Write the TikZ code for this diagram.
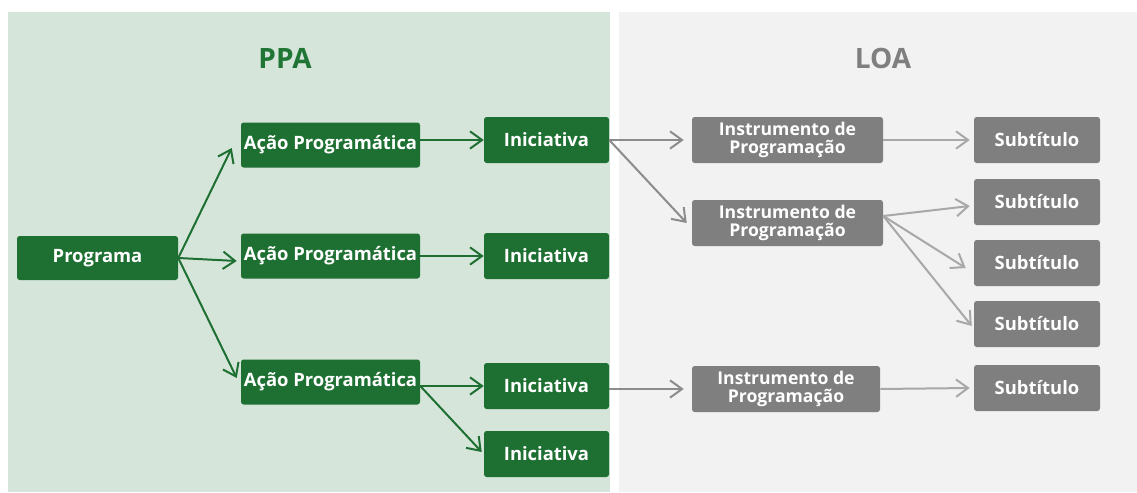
\documentclass[tikz,border=0pt]{standalone}
\usepackage{fontspec}
\setmainfont{Open Sans}
\usetikzlibrary{arrows.meta}
\definecolor{ppabg}{HTML}{D5E5DA}
\definecolor{loabg}{HTML}{F2F2F2}
\definecolor{dgreen}{HTML}{1E7032}
\definecolor{tgreen}{HTML}{207535}
\definecolor{dgray}{HTML}{7F7F7F}
\definecolor{agray}{HTML}{8C8C8C}
\definecolor{lgray}{HTML}{A8A8A8}
\tikzset{
  gbox/.style={fill=dgreen, text=white, font=\bfseries\fontsize{13.8}{15}\selectfont, rounded corners=2pt, inner sep=0pt, anchor=center},
  graybox/.style={fill=dgray, text=white, font=\bfseries\fontsize{13.2}{13.6}\selectfont, rounded corners=2pt, inner sep=0pt, align=center, anchor=center},
  garrow/.style={draw=dgreen, line width=1.5pt, -{Straight Barb[length=9pt,width=13pt,line width=1.5pt]}},
  darrow/.style={draw=agray, line width=1.5pt, -{Straight Barb[length=9pt,width=13pt,line width=1.5pt]}},
  larrow/.style={draw=lgray, line width=1.5pt, -{Straight Barb[length=9pt,width=13pt,line width=1.5pt]}},
  title/.style={font=\bfseries\fontsize{21}{24}\selectfont}
}
\begin{document}
\begin{tikzpicture}[x=0.75pt,y=-0.75pt]
\useasboundingbox (0,0) rectangle (1137,492);
\fill[white] (0,0) rectangle (1137,492);
\fill[ppabg] (8,12) rectangle (610,492);
\fill[loabg] (619,12) rectangle (1137,492);
\node[title, text=tgreen] (ppa) at (285,58) {PPA};
\node[title, text=dgray] (loa) at (883,58) {LOA};
% green nodes
\node[gbox, minimum width=161*0.75pt, minimum height=44*0.75pt] (prog) at (97.5,258) {Programa};
\node[gbox, minimum width=179*0.75pt, minimum height=45*0.75pt] (ap1) at (330.5,145) {Ação Programática};
\node[gbox, minimum width=179*0.75pt, minimum height=45*0.75pt] (ap2) at (330.5,256) {Ação Programática};
\node[gbox, minimum width=179*0.75pt, minimum height=45*0.75pt] (ap3) at (330.5,382) {Ação Programática};
\node[gbox, minimum width=125*0.75pt, minimum height=46*0.75pt] (i1) at (546.5,140) {Iniciativa};
\node[gbox, minimum width=125*0.75pt, minimum height=46*0.75pt] (i2) at (546.5,256) {Iniciativa};
\node[gbox, minimum width=125*0.75pt, minimum height=46*0.75pt] (i3) at (546.5,386) {Iniciativa};
\node[gbox, minimum width=125*0.75pt, minimum height=46*0.75pt] (i4) at (546.5,454) {Iniciativa};
% gray nodes
\node[graybox, minimum width=191*0.75pt, minimum height=46*0.75pt] (ip1) at (787.5,140) {Instrumento de\\Programação};
\node[graybox, minimum width=191*0.75pt, minimum height=46*0.75pt] (ip2) at (787.5,223) {Instrumento de\\Programação};
\node[graybox, minimum width=188*0.75pt, minimum height=46*0.75pt] (ip3) at (786,389) {Instrumento de\\Programação};
\node[gbox, fill=dgray, minimum width=126*0.75pt, minimum height=46*0.75pt] (s1) at (1037,140) {Subtítulo};
\node[gbox, fill=dgray, minimum width=126*0.75pt, minimum height=46*0.75pt] (s2) at (1037,202) {Subtítulo};
\node[gbox, fill=dgray, minimum width=126*0.75pt, minimum height=46*0.75pt] (s3) at (1037,263) {Subtítulo};
\node[gbox, fill=dgray, minimum width=126*0.75pt, minimum height=46*0.75pt] (s4) at (1037,324) {Subtítulo};
\node[gbox, fill=dgray, minimum width=126*0.75pt, minimum height=46*0.75pt] (s5) at (1037,388) {Subtítulo};
% green arrows
\draw[garrow] (prog.east) -- ([xshift=-9*0.75pt,yshift=-3*0.75pt]ap1.west);
\draw[garrow] (prog.east) -- ([xshift=-4*0.75pt,yshift=-5*0.75pt]ap2.west);
\draw[garrow] (prog.east) -- ([xshift=-4*0.75pt,yshift=4*0.75pt]ap3.west);
\draw[garrow] ([yshift=5*0.75pt]ap1.east) -- (i1.west);
\draw[garrow] (ap2.east) -- (i2.west);
\draw[garrow] ([yshift=-4*0.75pt]ap3.east) -- (i3.west);
\draw[garrow] ([yshift=-4*0.75pt]ap3.east) -- ([xshift=-2*0.75pt,yshift=2*0.75pt]i4.west);
% gray arrows
\draw[darrow] (i1.east) -- ([xshift=-8*0.75pt]ip1.west);
\draw[darrow] (i1.east) -- ([xshift=-5*0.75pt]ip2.west);
\draw[darrow] ([yshift=-3*0.75pt]i3.east) -- ([xshift=-8*0.75pt]ip3.west);
\draw[larrow] (ip1.east) -- ([xshift=-4*0.75pt]s1.west);
\coordinate (ip2o) at ([yshift=7*0.75pt]ip2.east);
\draw[larrow] (ip2o) -- ([xshift=-4*0.75pt,yshift=-4*0.75pt]s2.west);
\draw[larrow] (ip2o) -- ([xshift=-8*0.75pt,yshift=-5*0.75pt]s3.west);
\draw[larrow] (ip2o) -- ([xshift=-2*0.75pt,yshift=-2*0.75pt]s4.west);
\draw[larrow] (ip3.east) -- ([xshift=-4*0.75pt]s5.west);
\end{tikzpicture}
\end{document}
